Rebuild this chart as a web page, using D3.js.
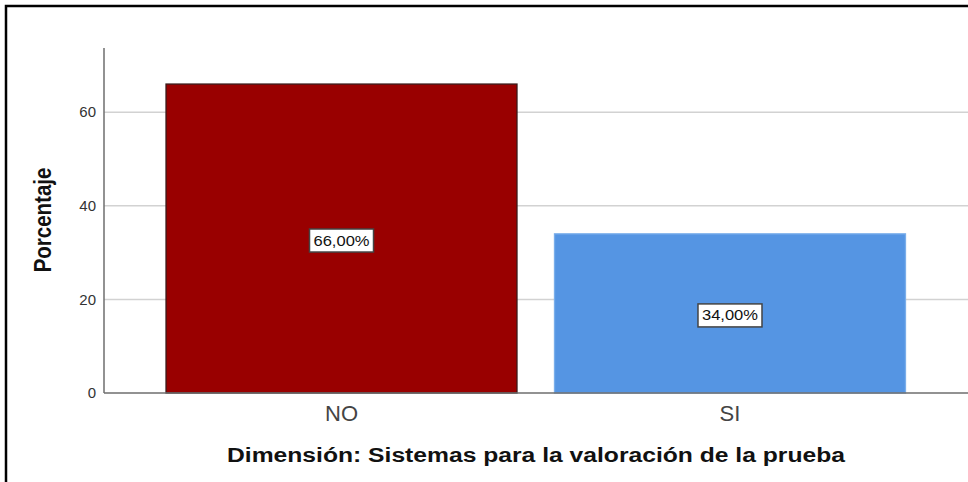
<!DOCTYPE html>
<html>
<head>
<meta charset="utf-8">
<script src="https://cdn.jsdelivr.net/npm/d3@7"></script>
<style>
  body { margin: 0; background: #fff; }
  svg { display: block; }
</style>
</head>
<body>
<div id="chart-area"></div>
<script>
// Data
var categories = ["NO", "SI"];
var percents = [66, 34];
var barColors = ["#990000", "#5595e3"];
var barStrokes = ["#3a1a1a", "#7aaeea"];
var yTicks = [0, 20, 40, 60];

// Canvas
var canvasWidth = 968;
var canvasHeight = 482;

var svg = d3.select("#chart-area")
	.append("svg")
	.attr("width", canvasWidth)
	.attr("height", canvasHeight);

// Outer frame (top + left only visible)
svg.append("path")
	.attr("d", "M6,482 L6,6 L968,6")
	.attr("fill", "none")
	.attr("stroke", "#000")
	.attr("stroke-width", 2.5);

// Plot area
var plotLeft = 104, plotRight = 968, plotTop = 48, plotBottom = 393;

// Y - Scale
var y = d3.scaleLinear()
	.domain([0, 73.7])
	.range([plotBottom, plotTop]);

// X - Scale
var x = d3.scaleBand()
	.domain(categories)
	.range([147.25, 924.25])
	.paddingInner(0.0965)
	.paddingOuter(0.0483);

// Gridlines
svg.append("g")
	.selectAll("line")
	.data(yTicks.filter(function(d){ return d > 0; }))
	.enter().append("line")
	.attr("x1", plotLeft)
	.attr("x2", plotRight)
	.attr("y1", function(d){ return y(d); })
	.attr("y2", function(d){ return y(d); })
	.attr("stroke", "#d2d2d2")
	.attr("stroke-width", 1.5);

// Y-axis
var yAxis = svg.append("g")
	.attr("transform", "translate(" + plotLeft + ",0)")
	.call(d3.axisLeft(y).tickValues(yTicks).tickSize(0).tickPadding(8));
yAxis.select(".domain").remove();
yAxis.selectAll("text")
	.attr("font-family", "Liberation Sans, Arial, sans-serif")
	.attr("font-size", 15)
	.attr("fill", "#333");

// Bars
svg.append("g")
	.selectAll("rect")
	.data(categories)
	.enter().append("rect")
	.attr("x", function(d){ return x(d); })
	.attr("y", function(d, i){ return y(percents[i]); })
	.attr("width", x.bandwidth())
	.attr("height", function(d, i){ return y(0) - y(percents[i]); })
	.attr("fill", function(d, i){ return barColors[i]; })
	.attr("stroke", function(d, i){ return barStrokes[i]; })
	.attr("stroke-width", 1.3);

// Axis lines
svg.append("line")
	.attr("x1", plotLeft).attr("x2", plotLeft)
	.attr("y1", plotTop).attr("y2", plotBottom)
	.attr("stroke", "#6e6e6e").attr("stroke-width", 1.5);
svg.append("line")
	.attr("x1", plotLeft).attr("x2", plotRight)
	.attr("y1", plotBottom).attr("y2", plotBottom)
	.attr("stroke", "#6e6e6e").attr("stroke-width", 1.5);

// Value labels
var labels = svg.append("g")
	.selectAll("g")
	.data(categories)
	.enter().append("g")
	.attr("transform", function(d, i){
		return "translate(" + (x(d) + x.bandwidth() / 2) + "," + (y(percents[i] / 2) + 2) + ")";
	});

labels.append("rect")
	.attr("x", -32)
	.attr("y", -11.5)
	.attr("width", 64)
	.attr("height", 23)
	.attr("fill", "#fff")
	.attr("stroke", "#444")
	.attr("stroke-width", 1.5);

labels.append("text")
	.attr("text-anchor", "middle")
	.attr("y", 5)
	.attr("font-family", "Liberation Sans, Arial, sans-serif")
	.attr("font-size", 14)
	.attr("textLength", 56)
	.attr("lengthAdjust", "spacingAndGlyphs")
	.attr("fill", "#111")
	.text(function(d, i){ return percents[i].toFixed(2).replace(".", ",") + "%"; });

// X-axis category labels
svg.append("g")
	.selectAll("text")
	.data(categories)
	.enter().append("text")
	.attr("x", function(d){ return x(d) + x.bandwidth() / 2; })
	.attr("y", 421)
	.attr("text-anchor", "middle")
	.attr("font-family", "Liberation Sans, Arial, sans-serif")
	.attr("font-size", 22)
	.attr("fill", "#444")
	.text(function(d){ return d; });

// X-axis title
svg.append("text")
	.attr("x", 536)
	.attr("y", 462)
	.attr("text-anchor", "middle")
	.attr("font-family", "Liberation Sans, Arial, sans-serif")
	.attr("font-weight", "bold")
	.attr("font-size", 19.5)
	.attr("textLength", 618)
	.attr("lengthAdjust", "spacingAndGlyphs")
	.attr("fill", "#111")
	.text("Dimensión: Sistemas para la valoración de la prueba");

// Y-axis title (stretched sideways like the source image)
svg.append("text")
	.attr("transform", "translate(51,220) scale(1.2,1) rotate(-90)")
	.attr("text-anchor", "middle")
	.attr("font-family", "Liberation Sans, Arial, sans-serif")
	.attr("font-weight", "bold")
	.attr("font-size", 20.5)
	.attr("fill", "#111")
	.text("Porcentaje");
</script>
</body>
</html>
